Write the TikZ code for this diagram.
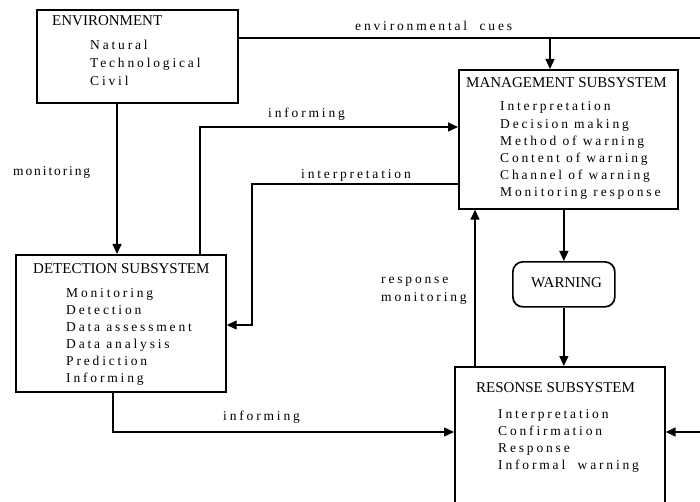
\documentclass[tikz,border=0pt]{standalone}
\usepackage{fontspec}
\setmainfont{Liberation Serif}
\newfontfamily\itemfont[LetterSpace=21]{Liberation Serif}
\newfontfamily\sidefont[LetterSpace=14]{Liberation Serif}
\newfontfamily\titlefont{Liberation Serif}
\usetikzlibrary{arrows.meta}

\begin{document}
\begin{tikzpicture}[x=1pt,y=-1pt,
  box/.style={draw, line width=1.7pt, anchor=north west, inner sep=0pt},
  heading/.style={anchor=base west, inner sep=0pt, font=\titlefont\fontsize{15}{15}\selectfont},
  entry/.style={anchor=base west, inner sep=0pt, font=\itemfont\fontsize{13.5}{17}\selectfont},
  label/.style={anchor=base west, inner sep=0pt, font=\itemfont\fontsize{13.5}{18}\selectfont},
  link/.style={line width=1.4pt},
  arr/.style={link, -{Triangle[length=10pt,width=9pt]}}
]
\clip (0,0) rectangle (700,502);
\fill[white] (0,0) rectangle (700,502);

% ---------- boxes ----------
\node[box, minimum width=201pt, minimum height=93pt] (env) at (36,9) {};
\node[box, minimum width=219pt, minimum height=139pt] (mgmt) at (458,69) {};
\node[box, minimum width=210pt, minimum height=137pt] (det) at (15,254) {};
\node[box, minimum width=210pt, minimum height=170pt] (resp) at (454,366) {};
\node[box, rounded corners=10pt, minimum width=102pt, minimum height=45pt] (warn) at (512,261) {};

% ---------- box texts ----------
\node[heading] (envT) at (52,26) {ENVIRONMENT};
\foreach \t [count=\i from 0] in {Natural, Technological, Civil}
  \node[entry] (envI-\i) at (90,50+18*\i) {\t};

\node[heading] (mgmtT) at (466,88) {MANAGEMENT SUBSYSTEM};
\foreach \t [count=\i from 0] in {Interpretation, Decision\ making, Method\ of\ warning,
    Content\ of\ warning, Channel\ of\ warning, Monitoring\ response}
  \node[entry] (mgmtI-\i) at (500,111+17.2*\i) {\t};

\node[heading] (detT) at (33,273) {DETECTION SUBSYSTEM};
\foreach \t [count=\i from 0] in {Monitoring, Detection, Data\ assessment, Data\ analysis,
    Prediction, Informing}
  \node[entry] (detI-\i) at (66,297+17*\i) {\t};

\node[heading] (respT) at (476,392) {RESONSE SUBSYSTEM};
\foreach \t [count=\i from 0] in {Interpretation, Confirmation, Response, Informal\ \ warning}
  \node[entry] (respI-\i) at (498,418+17.3*\i) {\t};

\node[heading] (warnT) at (531,287) {WARNING};

% ---------- connector labels ----------
\node[label] (lcues) at (355,31) {environmental\ \ cues};
\node[label] (linf1) at (268,118) {informing};
\node[label] (lint) at (301,179) {interpretation};
\node[anchor=base west, inner sep=0pt, font=\sidefont\fontsize{13.5}{13}\selectfont] (lmon) at (13,176) {monitoring};
\node[label] (lresp1) at (381,283) {response};
\node[label] (lresp2) at (381,301) {monitoring};
\node[label] (linf2) at (223,420) {informing};

% ---------- connectors ----------
\coordinate (cue) at (550,38);
\coordinate (rin) at (700,432);
\draw[link] (env.east |- cue) -- (700,38);
\draw[arr] (cue) -- (cue |- mgmt.north);
\draw[arr] (117,0 |- env.south) -- (117,0 |- det.north);
\draw[arr] (200,0 |- det.north) -- (200,127) -- (mgmt.west |- 0,127);
\draw[arr] (mgmt.west |- 0,184) -- (252,184) -- (252,325) -- (det.east |- 0,325);
\draw[arr] (113,0 |- det.south) -- (113,432) -- (resp.west |- 0,432);
\draw[arr] (rin) -- (resp.east |- rin);
\draw[arr] (475,0 |- resp.north) -- (475,0 |- mgmt.south);
\draw[arr] (warn.north |- mgmt.south) -- (warn.north);
\draw[arr] (warn.south) -- (warn.south |- resp.north);
\end{tikzpicture}
\end{document}
